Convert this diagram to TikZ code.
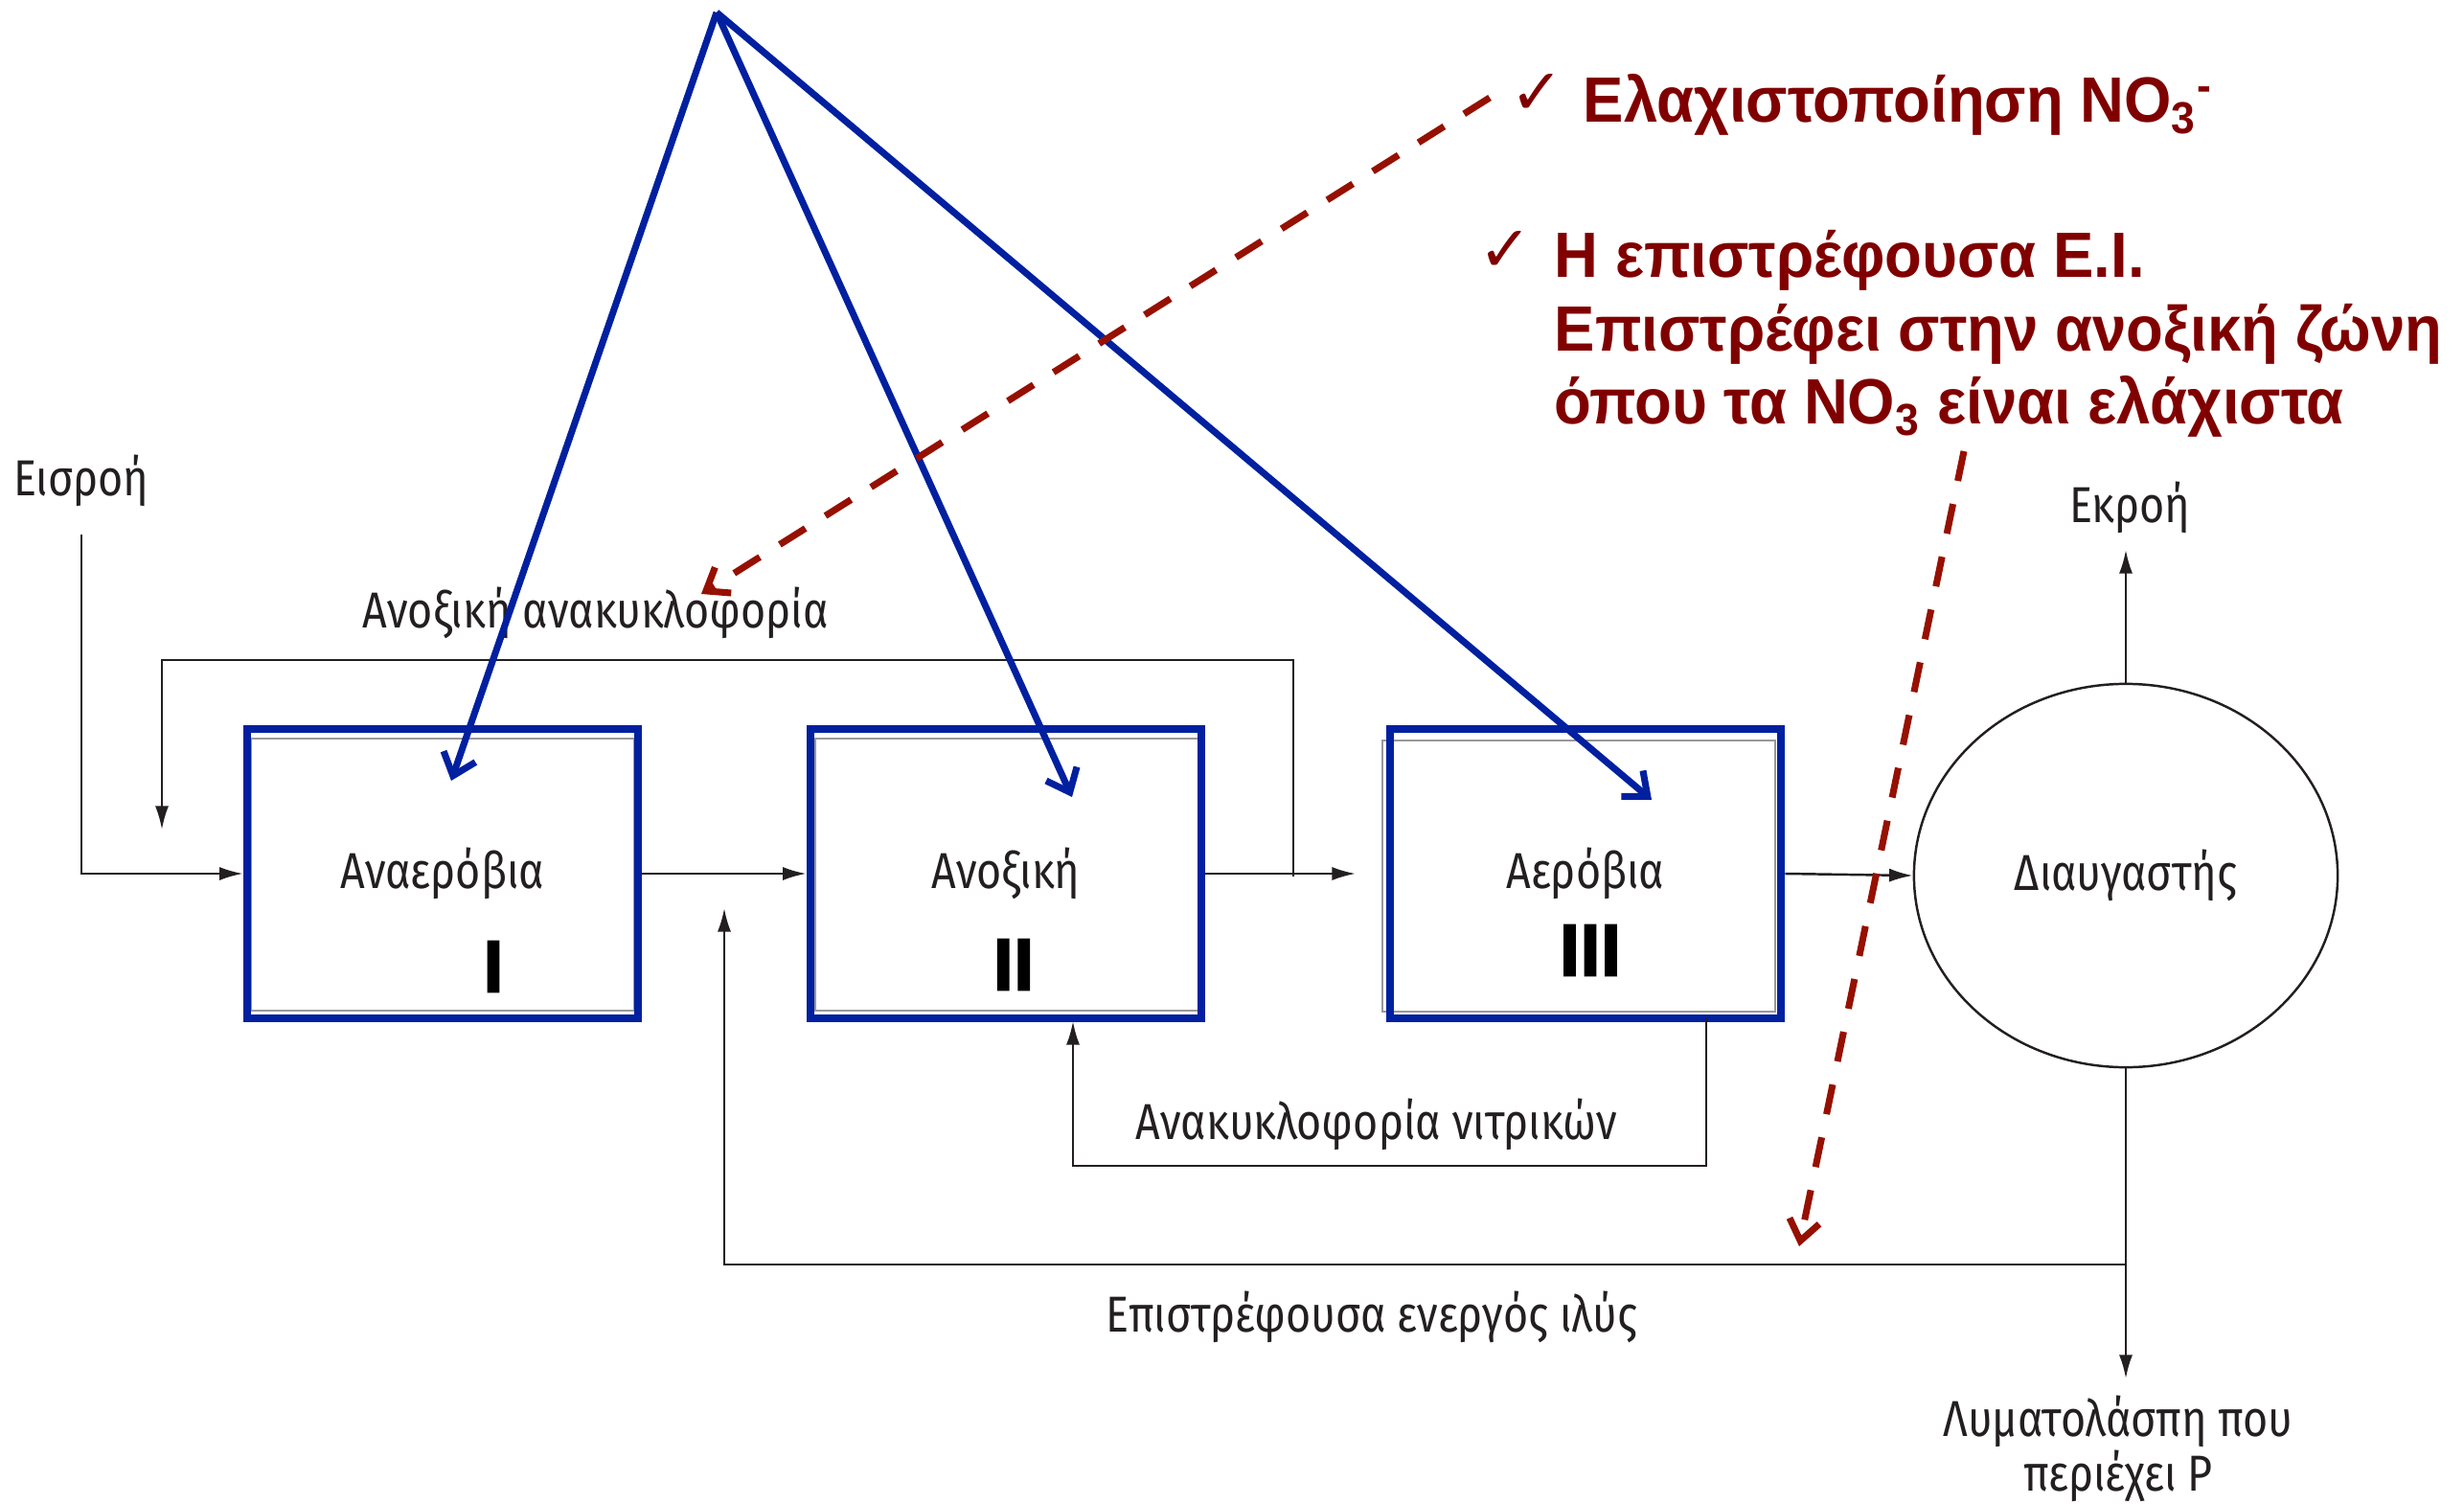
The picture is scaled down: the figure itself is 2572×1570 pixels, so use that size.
\documentclass[tikz,border=0pt]{standalone}
\usepackage{fontspec}
\setmainfont{Liberation Sans}
\newfontfamily\labfont[FakeStretch=0.85]{Fira Sans}
\newfontfamily\redfont[FakeStretch=0.95]{Liberation Sans}
\newfontfamily\numfont[BoldFeatures={FakeBold=2}]{Liberation Sans}
\newfontfamily\symfont{DejaVu Sans}
\usetikzlibrary{arrows.meta,shapes.geometric}
\definecolor{dblue}{RGB}{0,32,160}
\definecolor{dred}{RGB}{128,0,0}
\definecolor{dashred}{RGB}{150,16,0}
\definecolor{ink}{RGB}{35,31,32}
\begin{document}
\begin{tikzpicture}[x=0.01cm,y=-0.01cm,
  lab/.style={font=\labfont\fontsize{15}{18.5}\selectfont, text=ink, inner sep=0pt},
  stage/.style={draw=dblue, line width=2.4pt, minimum width=4.08cm, minimum height=3.02cm, inner sep=0pt,
    font=\labfont\fontsize{15}{18.5}\selectfont, text=ink},
  numeral/.style={font=\numfont\bfseries\fontsize{22}{24}\selectfont, inner sep=0pt},
  inner/.style={draw=gray!80, line width=0.6pt},
  flow/.style={draw=ink, line width=0.7pt, -{Latex[length=7pt,width=4pt]}},
  bluearrow/.style={draw=dblue, line width=2pt, -{Straight Barb[length=6pt,width=10pt]}},
  redarrow/.style={draw=dashred, line width=2pt, dash pattern=on 9pt off 7pt, -{Straight Barb[length=6pt,width=9pt]}},
  redtxt/.style={font=\redfont\bfseries\fontsize{19}{23}\selectfont, text=dred, inner sep=0pt},
  chk/.style={font=\symfont\fontsize{19}{21}\selectfont, text=dred, inner sep=0pt}
]
\useasboundingbox (0,0) rectangle (2572,1570);

% inner grey outlines
\draw[inner] (262,771) rectangle (662,1055);
\draw[inner] (851,771) rectangle (1251,1055);
\draw[inner] (1443,773) rectangle (1853,1056);

% stages
\node[stage] (I) at (462,912) {Αναερόβια};
\node[stage] (II) at (1050,912) {Ανοξική};
\node[stage] (III) at (1655,912) {Αερόβια};
\node[numeral] (nI) at (515,1009) {I};
\node[numeral] (nII) at (1058,1007) {II};
\node[numeral] (nIII) at (1660,992) {III};

% clarifier
\node[draw=ink, line width=0.7pt, ellipse, minimum width=4.42cm, minimum height=4.0cm, inner sep=0pt,
  font=\labfont\fontsize{15}{18.5}\selectfont, text=ink] (C) at (2219,914) {Διαυγαστής};

% labels
\node[lab] (Lin) at (85,502) {Εισροή};
\node[lab] (Lar) at (622,640) {Ανοξική ανακυκλοφορία};
\node[lab] (Lnr) at (1437,1174) {Ανακυκλοφορία νιτρικών};
\node[lab] (Lras) at (1432,1375) {Επιστρέφουσα ενεργός ιλύς};
\node[lab] (Leff) at (2223,530) {Εκροή};
\node[lab, align=center, font=\labfont\fontsize{15}{14}\selectfont] (Lsl) at (2211,1512) {Λυματολάσπη που\\περιέχει P};

% coordinates
\coordinate (inStart) at (85,558);
\coordinate (arStart) at (1350,915);
\coordinate (arTop) at (169,689);
\coordinate (arEnd) at (169,866);
\coordinate (rasStart) at (2219,1320);
\coordinate (rasEnd) at (756,948);
\coordinate (nrStart) at (1781,1063);
\coordinate (nrBot) at (1781,1217);
\coordinate (nrEnd) at (1120,1066);
\coordinate (effEnd) at (2219,574);
\coordinate (slEnd) at (2219,1439);

% black flows
\draw[flow] (inStart) |- (I.west);
\draw[flow] (I.east) -- (II.west);
\draw[flow, shorten >=9pt] (II.east) -- (III.west);
\draw[flow] (III.east) -- (C.west);
\draw[flow] (arStart) |- (arTop) -- (arEnd);
\draw[flow] (rasStart) -| (rasEnd);
\draw[flow] (nrStart) -- (nrBot) -| (nrEnd);
\draw[flow] (C.north) -- (effEnd);
\draw[flow] (C.south) -- (slEnd);

% blue pointers
\coordinate (apex) at (748,13);
\coordinate (tI) at (471,815);
\coordinate (tII) at (1119,832);
\coordinate (tIII) at (1724,835);
\draw[bluearrow] (apex) -- (tI);
\draw[bluearrow] (apex) -- (tII);
\draw[bluearrow] (apex) -- (tIII);

% red notes
\node[chk] (c1) at (1604,98) {✓};
\node[redtxt, anchor=base west] (t1) at (1652,128) {Ελαχιστοποίηση NO\textsubscript{3}\textsuperscript{-}};
\node[chk] (c2) at (1571,262) {✓};
\node[redtxt, anchor=base west] (t2) at (1622,290) {Η επιστρέφουσα Ε.Ι.};
\node[redtxt, anchor=base west] (t3) at (1622,367) {Επιστρέφει στην ανοξική ζώνη};
\node[redtxt, anchor=base west] (t4) at (1622,443) {όπου τα NO\textsubscript{3} είναι ελάχιστα};

\coordinate (r1s) at (1555,102);
\coordinate (r1e) at (732,620);
\coordinate (r2s) at (2050,471);
\coordinate (r2e) at (1878,1301);
\draw[redarrow] (r1s) -- (r1e);
\draw[redarrow] (r2s) -- (r2e);
\end{tikzpicture}
\end{document}
